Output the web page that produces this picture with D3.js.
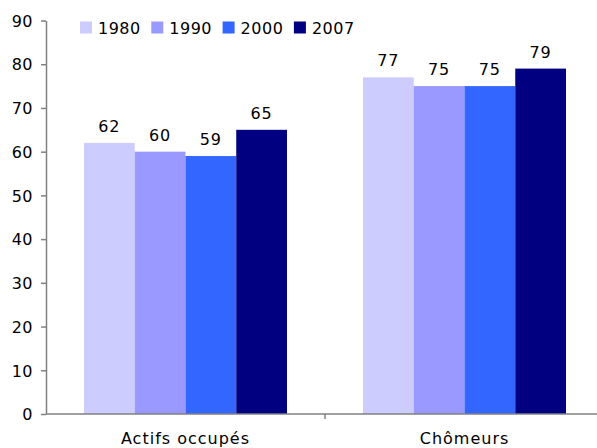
<!DOCTYPE html>
<html>
<head>
<meta charset="utf-8">
<script src="https://cdn.jsdelivr.net/npm/d3@7"></script>
<style>
  body { margin: 0; background: #fff; }
  text { font-family: "DejaVu Sans", Verdana, sans-serif; fill: #000; }
</style>
</head>
<body>
<svg id="chart" width="597" height="448"></svg>
<script>
// data
var categories = ["Actifs occupés", "Chômeurs"];
var years = ["1980", "1990", "2000", "2007"];
var values1980 = [62, 77];
var values1990 = [60, 75];
var values2000 = [59, 75];
var values2007 = [65, 79];
var yTicks = [0, 10, 20, 30, 40, 50, 60, 70, 80, 90];
var colors = ["#ccccff", "#9999ff", "#3366ff", "#000080"];

var series = [values1980, values1990, values2000, values2007];

var svg = d3.select("#chart");

var x = d3.scaleBand()
    .domain(categories)
    .range([46, 604])
    .paddingInner(0)
    .paddingOuter(0);

var x1 = d3.scaleBand()
    .domain(years)
    .range([38, x.bandwidth() - 38]);

var y = d3.scaleLinear()
    .domain([0, 90])
    .range([414, 20.5]);

// bars
categories.forEach(function (cat, ci) {
    var g = svg.append("g").attr("transform", "translate(" + x(cat) + ",0)");
    years.forEach(function (yr, si) {
        var v = series[si][ci];
        g.append("rect")
            .attr("x", x1(yr))
            .attr("y", y(v))
            .attr("width", x1.bandwidth())
            .attr("height", y(0) - y(v))
            .attr("fill", colors[si]);
        g.append("text")
            .attr("x", x1(yr) + x1.bandwidth() / 2)
            .attr("y", y(v) - 11)
            .attr("text-anchor", "middle")
            .style("font-size", "16px")
            .style("letter-spacing", "1px")
            .text(v);
    });
});

// y axis
var yAxis = svg.append("g")
    .attr("transform", "translate(46,0)")
    .call(d3.axisLeft(y).tickValues(yTicks).tickSize(5).tickPadding(8).tickSizeOuter(0));
yAxis.select(".domain").attr("stroke", "#808080").attr("stroke-width", 1.5);
yAxis.selectAll(".tick line").attr("stroke", "#808080").attr("stroke-width", 1.5);
yAxis.selectAll(".tick text")
    .style("font-size", "16px")
    .style("letter-spacing", "0.5px")
    .attr("dy", "0.36em")
    .attr("fill", "#000");

// x axis
var xAxis = svg.append("g").attr("transform", "translate(0,414)");
xAxis.append("line")
    .attr("x1", 46).attr("x2", 604)
    .attr("stroke", "#808080").attr("stroke-width", 1.5);
xAxis.selectAll(".sep")
    .data([x("Chômeurs")])
    .enter().append("line")
    .attr("x1", function (d) { return d; })
    .attr("x2", function (d) { return d; })
    .attr("y1", 0).attr("y2", 5)
    .attr("stroke", "#808080").attr("stroke-width", 1.5);
xAxis.selectAll(".cat")
    .data(categories)
    .enter().append("text")
    .attr("x", function (d) { return x(d) + x.bandwidth() / 2; })
    .attr("y", 29.5)
    .attr("text-anchor", "middle")
    .style("font-size", "16px")
    .style("letter-spacing", "1px")
    .text(function (d) { return d; });

// legend
var legend = svg.append("g").attr("transform", "translate(80,0)");
years.forEach(function (yr, i) {
    var lg = legend.append("g").attr("transform", "translate(" + (i * 71.3) + ",0)");
    lg.append("rect")
        .attr("x", 0).attr("y", 21.5)
        .attr("width", 12).attr("height", 12)
        .attr("fill", colors[i]);
    lg.append("text")
        .attr("x", 18).attr("y", 33.5)
        .style("font-size", "16px")
        .style("letter-spacing", "0.5px")
        .text(yr);
});
</script>
</body>
</html>
